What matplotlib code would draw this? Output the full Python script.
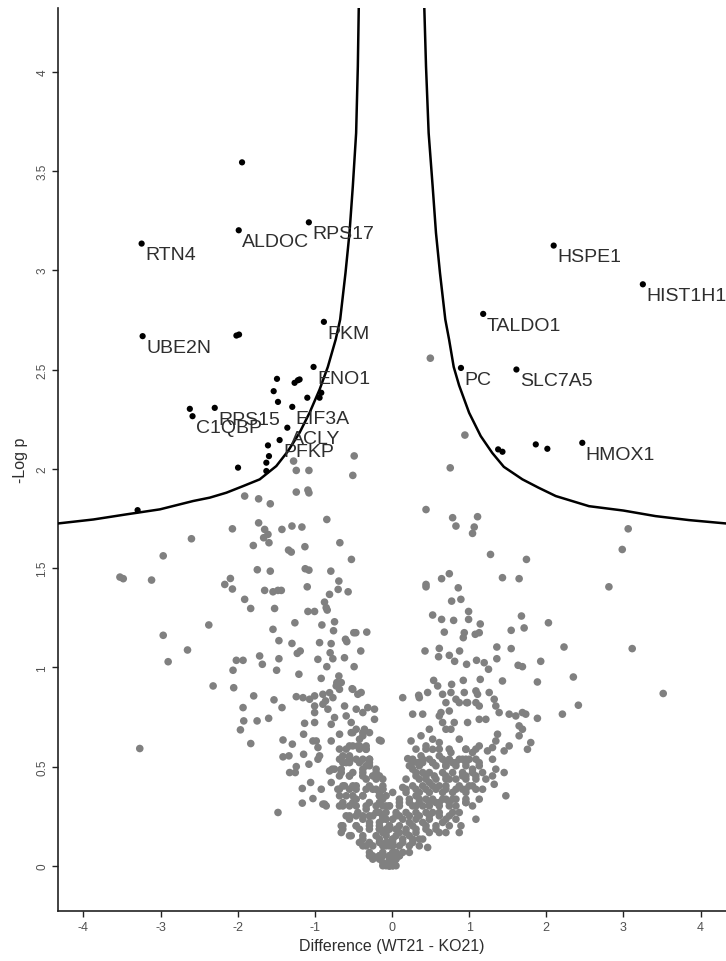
import matplotlib
matplotlib.use("Agg")
import matplotlib.pyplot as plt

plt.rcParams['font.family'] = ['Liberation Sans', 'DejaVu Sans']

# ---------------- data ----------------
labeled_genes = ["RTN4", "ALDOC", "RPS17", "UBE2N", "PKM", "ENO1", "RPS15", "C1QBP",
                 "EIF3A", "ACLY", "PFKP", "HSPE1", "HIST1H1C", "TALDO1", "PC", "SLC7A5", "HMOX1"]
labeled_diff = [-3.246, -1.987, -1.078, -3.233, -0.883, -1.017, -2.298, -2.586,
                -1.293, -1.357, -1.457, 2.096, 3.252, 1.182, 0.894, 1.613, 2.467]
labeled_logp = [3.134, 3.201, 3.241, 2.668, 2.740, 2.513, 2.307, 2.265,
                2.312, 2.207, 2.145, 3.124, 2.929, 2.780, 2.508, 2.500, 2.131]

other_sig_diff = [-1.944, -2.017, -1.983, -1.491, -1.263, -1.220, -1.198, -1.534, -1.478,
                  -1.098, -0.939, -0.917, -2.621, -1.608, -1.595, -1.629, -1.996, -1.629,
                  -3.298, 1.376, 1.432, 1.864, 2.014]
other_sig_logp = [3.543, 2.671, 2.676, 2.453, 2.433, 2.446, 2.450, 2.391, 2.337,
                  2.358, 2.358, 2.383, 2.302, 2.118, 2.064, 2.031, 2.006, 1.989,
                  1.792, 2.098, 2.086, 2.123, 2.101]

# significance threshold curve, left and right branches
curve_left_diff = [-0.431, -0.443, -0.465, -0.508, -0.551, -0.603, -0.672, -0.730, -0.832,
                   -0.939, -1.069, -1.198, -1.349, -1.500, -1.715, -1.931, -2.146, -2.362,
                   -2.578, -3.009, -3.440, -3.872, -4.330]
curve_left_logp = [4.319, 4.026, 3.691, 3.422, 3.188, 2.986, 2.752, 2.651, 2.513,
                   2.399, 2.282, 2.182, 2.089, 2.014, 1.947, 1.913, 1.880, 1.855,
                   1.838, 1.796, 1.771, 1.745, 1.725]
curve_right_diff = [0.419, 0.441, 0.475, 0.527, 0.570, 0.622, 0.691, 0.740, 0.800, 0.870,
                    1.000, 1.150, 1.300, 1.450, 1.691, 1.900, 2.123, 2.554, 3.000, 3.417,
                    3.850, 4.330]
curve_right_logp = [4.319, 4.026, 3.691, 3.422, 3.188, 2.986, 2.752, 2.651, 2.513, 2.420,
                    2.282, 2.165, 2.080, 2.010, 1.947, 1.905, 1.863, 1.812, 1.790, 1.762,
                    1.742, 1.725]

# non-significant proteins (difference, -log p), grouped by region
ns_top = [(0.497, 2.557), (0.945, 2.170), (-0.490, 2.065), (-1.276, 2.039)]

ns_left_mid = [
    (-1.241, 1.992), (-1.077, 1.992), (-0.508, 1.967), (-1.241, 1.883), (-1.090, 1.893),
    (-1.077, 1.879), (-1.910, 1.863), (-1.729, 1.849), (-1.578, 1.824), (-0.845, 1.745),
    (-1.729, 1.728), (-2.069, 1.698), (-1.427, 1.695), (-1.297, 1.712), (-1.168, 1.707),
    (-1.651, 1.695), (-1.608, 1.670), (-1.664, 1.653), (-1.595, 1.628), (-1.798, 1.614),
    (-2.600, 1.648), (-1.129, 1.608), (-0.676, 1.628), (-1.341, 1.591), (-1.306, 1.581),
    (-2.966, 1.562), (-0.526, 1.544), (-1.746, 1.492), (-1.578, 1.485), (-1.125, 1.497),
    (-1.077, 1.490), (-0.793, 1.485), (-3.527, 1.455), (-3.484, 1.447), (-3.117, 1.440),
    (-2.095, 1.448), (-2.168, 1.418), (-2.069, 1.395), (-1.651, 1.388), (-1.543, 1.381),
    (-1.479, 1.388), (-1.435, 1.388), (-1.099, 1.406), (-0.689, 1.435), (-0.698, 1.393),
    (-0.569, 1.381), (-0.810, 1.368), (-1.910, 1.343), (-1.832, 1.297), (-1.522, 1.297),
    (-0.875, 1.329), (-0.853, 1.301), (-0.840, 1.289), (-1.090, 1.282), (-1.004, 1.282),
    (-2.375, 1.214), (-1.543, 1.192), (-1.259, 1.225), (-0.909, 1.214), (-0.745, 1.230),
    (-0.758, 1.185), (-2.966, 1.162), (-0.495, 1.175), (-0.603, 1.142), (-0.586, 1.130),
    (-0.327, 1.178), (-0.469, 1.175), (-1.466, 1.135), (-1.297, 1.121), (-0.939, 1.125),
    (-0.789, 1.120), (-2.651, 1.088), (-1.228, 1.071), (-1.190, 1.083), (-0.802, 1.074),
    (-0.767, 1.044), (-0.405, 1.083), (-2.902, 1.029), (-2.018, 1.036), (-1.931, 1.036),
    (-1.716, 1.058), (-1.681, 1.016), (-1.466, 1.044), (-0.961, 1.041), (-0.616, 1.049),
    (-0.845, 1.004), (-0.491, 1.004), (-2.061, 0.986), (-1.496, 0.986), (-1.207, 0.966),
    (-0.918, 0.945), (-0.689, 0.957), (-0.715, 0.924), (-2.319, 0.907), (-2.052, 0.898),
    (-0.517, 0.893), (-0.681, 0.890),
]

ns_right_mid = [
    (0.755, 2.005), (0.441, 1.795), (0.786, 1.754), (0.829, 1.712), (1.109, 1.759),
    (1.066, 1.707), (1.044, 1.675), (3.062, 1.698), (2.985, 1.594), (1.277, 1.569),
    (1.743, 1.544), (0.743, 1.472), (0.643, 1.447), (0.441, 1.418), (0.441, 1.406),
    (0.859, 1.401), (1.432, 1.452), (1.648, 1.447), (2.812, 1.406), (0.773, 1.334),
    (0.893, 1.343), (0.527, 1.264), (0.643, 1.242), (0.799, 1.237), (0.993, 1.282),
    (0.993, 1.242), (1.144, 1.219), (1.678, 1.259), (1.713, 1.199), (2.028, 1.225),
    (0.678, 1.178), (0.937, 1.175), (0.924, 1.150), (1.079, 1.167), (1.131, 1.175),
    (1.545, 1.187), (2.230, 1.103), (3.114, 1.095), (0.428, 1.083), (0.613, 1.096),
    (0.604, 1.054), (0.743, 1.061), (0.876, 1.083), (0.812, 1.031), (0.967, 1.016),
    (1.096, 1.036), (1.195, 1.024), (1.251, 0.991), (1.359, 1.044), (1.359, 1.103),
    (1.545, 1.095), (1.635, 1.011), (1.691, 1.004), (1.928, 1.031), (2.351, 0.952),
    (0.540, 0.935), (0.773, 0.915), (0.924, 0.935), (1.144, 0.940), (1.432, 0.932),
    (1.885, 0.927), (3.516, 0.869),
]

ns_left_low = [
    (-3.270, 0.592),
    (-1.793, 0.857), (-1.530, 0.837), (-1.426, 0.798), (-1.931, 0.798), (-1.922, 0.731),
    (-1.749, 0.731), (-1.599, 0.744), (-1.965, 0.686), (-1.831, 0.617), (-1.413, 0.635),
    (-1.292, 0.614), (-1.413, 0.550), (-1.336, 0.555), (-1.146, 0.664), (-1.133, 0.719),
    (-1.146, 0.563), (-1.241, 0.501), (-1.327, 0.471), (-1.254, 0.471), (-1.077, 0.513),
    (-1.163, 0.391), (-1.055, 0.421), (-1.163, 0.317), (-1.025, 0.340), (-0.917, 0.387),
    (-0.896, 0.312), (-0.853, 0.303), (-1.478, 0.270),
    (-1.241, 0.853), (-1.154, 0.848), (-1.068, 0.840), (-1.003, 0.857), (-1.003, 0.806),
    (-1.003, 0.773), (-1.003, 0.723), (-1.025, 0.630), (-0.982, 0.630), (-0.960, 0.597),
    (-0.960, 0.538), (-0.939, 0.555),
    (-0.896, 0.865), (-0.861, 0.832), (-0.896, 0.815), (-0.809, 0.873), (-0.766, 0.848),
    (-0.723, 0.907), (-0.658, 0.924),
    (-0.831, 0.790), (-0.788, 0.714), (-0.745, 0.748), (-0.788, 0.630), (-0.680, 0.664),
    (-0.775, 0.488), (-0.809, 0.479),
    (-0.615, 0.806), (-0.594, 0.756), (-0.529, 0.723), (-0.508, 0.890), (-0.443, 0.865),
    (-0.400, 0.874), (-0.464, 0.790), (-0.378, 0.773), (-0.314, 0.798), (-0.227, 0.790),
    (-0.227, 0.739), (-0.529, 0.672), (-0.163, 0.634),
    (-0.637, 0.555), (-0.594, 0.521), (-0.658, 0.488), (-0.551, 0.454), (-0.615, 0.404),
    (-0.702, 0.387), (-0.594, 0.354), (-0.551, 0.303), (-0.680, 0.303), (-0.658, 0.203),
    (-0.658, 0.169), (-0.551, 0.236), (-0.529, 0.153), (-0.464, 0.203), (-0.378, 0.136),
    (-0.335, 0.102), (-0.292, 0.069), (-0.249, 0.035), (-0.163, 0.052), (-0.119, 0.018),
    (-0.033, 0.002), (-0.076, 0.102), (-0.119, 0.169), (-0.163, 0.220), (-0.076, 0.236),
    (-0.206, 0.270), (-0.119, 0.303), (-0.163, 0.354), (-0.249, 0.387), (-0.335, 0.438),
    (-0.378, 0.488), (-0.464, 0.538), (-0.421, 0.605), (-0.378, 0.656), (-0.335, 0.588),
    (-0.292, 0.538), (-0.335, 0.505), (-0.206, 0.488), (-0.206, 0.438), (-0.508, 0.404),
    (-0.464, 0.337), (-0.378, 0.354), (-0.335, 0.287), (-0.292, 0.220), (-0.378, 0.236),
    (-0.443, 0.270), (-0.421, 0.639), (-0.464, 0.689), (-0.357, 0.689), (-0.292, 0.505),
    (-0.119, 0.387), (-0.119, 0.438), (-0.033, 0.186), (0.010, 0.136), (0.053, 0.069),
    (0.031, 0.027), (-0.551, 0.555), (-0.508, 0.605), (-0.745, 0.488), (-0.788, 0.421),
    (-0.874, 0.312),
    (-0.508, 0.672), (-0.378, 0.672), (-0.292, 0.672),
    (-0.551, 0.605), (-0.443, 0.605), (-0.335, 0.605),
    (-0.680, 0.538), (-0.551, 0.538), (-0.378, 0.538), (-0.292, 0.538),
    (-0.658, 0.471), (-0.508, 0.471), (-0.378, 0.471), (-0.206, 0.471),
    (-0.637, 0.404), (-0.464, 0.404), (-0.292, 0.404), (-0.119, 0.404),
    (-0.680, 0.354), (-0.508, 0.354), (-0.378, 0.354), (-0.163, 0.354), (-0.076, 0.354),
    (-0.637, 0.303), (-0.464, 0.303), (-0.335, 0.303), (-0.206, 0.303), (-0.033, 0.303),
    (-0.551, 0.253), (-0.378, 0.253), (-0.249, 0.253), (-0.119, 0.253), (0.053, 0.253),
    (-0.637, 0.203), (-0.464, 0.203), (-0.292, 0.203), (-0.163, 0.203), (-0.033, 0.203),
    (-0.551, 0.153), (-0.378, 0.153), (-0.206, 0.153), (-0.076, 0.153), (0.053, 0.153),
    (-0.378, 0.102), (-0.249, 0.102), (-0.119, 0.102), (0.010, 0.102),
    (-0.292, 0.052), (-0.163, 0.052), (-0.033, 0.052), (0.074, 0.052),
    (-0.119, 0.002), (0.010, 0.002),
]

ns_right_low = [
    (0.139, 0.848), (0.346, 0.860), (0.354, 0.848), (0.462, 0.874), (0.592, 0.907),
    (2.416, 0.810), (2.209, 0.765), (1.885, 0.744),
    (1.088, 0.882), (1.109, 0.865), (0.937, 0.874), (0.967, 0.823), (1.088, 0.823),
    (1.131, 0.806), (0.656, 0.865), (0.699, 0.823), (0.764, 0.874), (0.829, 0.840),
    (1.260, 0.874), (1.325, 0.840), (1.346, 0.806), (1.389, 0.773), (1.519, 0.765),
    (1.605, 0.756), (1.691, 0.773), (1.734, 0.765), (1.648, 0.706), (1.691, 0.689),
    (0.268, 0.765), (0.398, 0.765), (0.613, 0.756), (0.635, 0.773),
    (0.743, 0.781), (0.872, 0.823), (0.980, 0.823), (0.807, 0.723), (0.980, 0.723),
    (1.131, 0.739), (1.217, 0.739), (0.764, 0.689), (0.484, 0.689), (0.376, 0.656),
    (0.247, 0.630), (-0.141, 0.630),
    (1.648, 0.656), (1.799, 0.622), (1.756, 0.588), (1.519, 0.605), (1.454, 0.580),
    (1.368, 0.664), (1.346, 0.630), (1.303, 0.597), (1.238, 0.580), (1.303, 0.538),
    (1.131, 0.605), (1.044, 0.572), (0.958, 0.588), (0.872, 0.639), (0.764, 0.572),
    (0.613, 0.622), (0.527, 0.639), (0.441, 0.605), (0.376, 0.555), (0.204, 0.541),
    (0.333, 0.521), (0.268, 0.488), (0.398, 0.471), (0.527, 0.521), (0.613, 0.555),
    (0.699, 0.505), (0.786, 0.521), (0.872, 0.538), (0.958, 0.538), (1.044, 0.488),
    (0.915, 0.454), (0.829, 0.438), (0.699, 0.438), (0.613, 0.404), (0.484, 0.421),
    (0.354, 0.438), (0.268, 0.404), (0.139, 0.396), (0.311, 0.354), (0.441, 0.337),
    (0.570, 0.320), (0.699, 0.337), (0.829, 0.337), (0.915, 0.387), (1.001, 0.404),
    (1.088, 0.438), (1.174, 0.387), (1.131, 0.337), (1.044, 0.303), (0.958, 0.320),
    (0.872, 0.270), (0.743, 0.253), (0.656, 0.220), (0.527, 0.270), (0.398, 0.303),
    (0.268, 0.303), (0.182, 0.270), (0.096, 0.303), (0.225, 0.220), (0.398, 0.220),
    (0.570, 0.186), (0.699, 0.169), (0.872, 0.169), (0.894, 0.203), (1.088, 0.236),
    (0.462, 0.094), (0.354, 0.136), (0.225, 0.153), (0.096, 0.169), (0.009, 0.136),
    (-0.077, 0.119), (-0.120, 0.069), (-0.034, 0.035), (0.096, 0.052), (0.225, 0.069),
    (-0.034, 0.000), (-0.163, 0.371), (-0.163, 0.270), (-0.163, 0.186), (-0.077, 0.303),
    (-0.120, 0.337), (1.303, 0.454), (1.346, 0.488), (1.454, 0.471), (1.325, 0.412),
    (1.476, 0.354), (1.217, 0.438), (0.656, 0.723), (0.699, 0.689), (0.527, 0.588),
    (0.268, 0.538), (0.398, 0.538), (0.484, 0.538), (0.656, 0.538), (0.743, 0.538),
    (0.915, 0.538), (1.001, 0.538), (1.088, 0.538),
    (0.225, 0.505), (0.354, 0.505), (0.570, 0.505), (0.699, 0.505), (0.829, 0.505),
    (0.958, 0.505), (1.131, 0.505),
    (0.311, 0.471), (0.484, 0.471), (0.656, 0.471), (0.786, 0.471), (0.915, 0.471),
    (1.044, 0.471), (1.174, 0.471),
    (0.182, 0.438), (0.441, 0.438), (0.570, 0.438), (0.743, 0.438), (0.958, 0.438),
    (0.398, 0.404), (0.527, 0.404), (0.699, 0.404), (0.872, 0.404), (1.044, 0.404),
    (0.009, 0.371), (0.182, 0.371), (0.354, 0.371), (0.484, 0.371), (0.656, 0.371),
    (0.786, 0.371), (0.958, 0.371),
    (0.096, 0.337), (0.225, 0.337), (0.354, 0.337), (0.527, 0.337), (0.656, 0.337),
    (0.786, 0.337), (0.958, 0.337),
    (-0.034, 0.303), (0.311, 0.303), (0.484, 0.303), (0.613, 0.303), (0.743, 0.303),
    (0.829, 0.303),
    (-0.077, 0.270), (0.053, 0.270), (0.311, 0.270), (0.441, 0.270), (0.613, 0.270),
    (0.786, 0.270),
    (-0.120, 0.236), (0.009, 0.236), (0.139, 0.236), (0.311, 0.236), (0.484, 0.236),
    (0.699, 0.236), (0.829, 0.236),
    (-0.034, 0.203), (0.096, 0.203), (0.268, 0.203), (0.441, 0.203), (0.570, 0.203),
    (0.743, 0.203),
    (-0.077, 0.169), (0.182, 0.169), (0.311, 0.169), (0.484, 0.169), (0.613, 0.169),
    (-0.163, 0.136), (0.139, 0.136), (0.268, 0.136), (0.398, 0.136),
    (-0.034, 0.102), (0.096, 0.102), (0.225, 0.102), (0.354, 0.102),
    (0.009, 0.069), (0.139, 0.069), (-0.163, 0.035), (0.053, 0.035), (-0.077, 0.010),
]

# extra proteins inside the two dense lobes near the origin
ns_core = [
    (-0.681, 0.589), (-0.594, 0.589), (-0.422, 0.589), (-0.336, 0.589),
    (-0.638, 0.521), (-0.551, 0.521), (-0.422, 0.521), (-0.293, 0.521),
    (-0.681, 0.454), (-0.551, 0.454), (-0.379, 0.454), (-0.250, 0.454), (-0.163, 0.454),
    (-0.681, 0.387), (-0.551, 0.387), (-0.465, 0.387), (-0.336, 0.387), (-0.206, 0.387),
    (-0.120, 0.387),
    (-0.638, 0.320), (-0.508, 0.320), (-0.293, 0.320), (-0.163, 0.320),
    (-0.594, 0.253), (-0.465, 0.253), (-0.293, 0.253), (-0.120, 0.253),
    (-0.638, 0.186), (-0.422, 0.186), (-0.293, 0.186), (-0.163, 0.186), (-0.077, 0.186),
    (-0.422, 0.119), (-0.293, 0.119), (-0.163, 0.119), (-0.034, 0.119),
    (-0.250, 0.052), (-0.120, 0.052), (0.009, 0.052),
    (-0.077, 0.002), (0.052, 0.002),
    (0.311, 0.589), (0.440, 0.589), (0.613, 0.589), (0.742, 0.589), (0.958, 0.589),
    (1.087, 0.589),
    (0.268, 0.521), (0.397, 0.521), (0.527, 0.521), (0.699, 0.521), (0.829, 0.521),
    (0.958, 0.521), (1.130, 0.521),
    (0.311, 0.454), (0.440, 0.454), (0.548, 0.454), (0.699, 0.454), (0.958, 0.454),
    (1.087, 0.454),
    (0.182, 0.387), (0.311, 0.387), (0.440, 0.387), (0.570, 0.387), (0.699, 0.387),
    (0.829, 0.387), (0.958, 0.387), (1.087, 0.387),
    (0.096, 0.320), (0.225, 0.320), (0.354, 0.320), (0.484, 0.320), (0.613, 0.320),
    (0.742, 0.320), (0.958, 0.320),
    (0.096, 0.253), (0.225, 0.253), (0.354, 0.253), (0.484, 0.253), (0.613, 0.253),
    (0.052, 0.186), (0.182, 0.186), (0.311, 0.186), (0.440, 0.186),
    (0.009, 0.119), (0.139, 0.119), (0.268, 0.119),
    (-0.034, 0.052), (0.096, 0.052), (0.009, 0.002),
]

x_ticks = [-4, -3, -2, -1, 0, 1, 2, 3, 4]
x_tick_labels = ["-4", "-3", "-2", "-1", "0", "1", "2", "3", "4"]
y_ticks = [0, 0.5, 1, 1.5, 2, 2.5, 3, 3.5, 4]
y_tick_labels = ["0", "0.5", "1", "1.5", "2", "2.5", "3", "3.5", "4"]
x_title = "Difference (WT21 - KO21)"
y_title = "-Log p"

# ---------------- plot ----------------
W, H = 726, 962
fig = plt.figure(figsize=(W / 100, H / 100), dpi=100)
ax = fig.add_axes([58 / W, 50 / H, 668 / W, 903 / H])

ns_all = ns_top + ns_left_mid + ns_right_mid + ns_left_low + ns_right_low + ns_core
ns_diff = [p[0] for p in ns_all]
ns_logp = [p[1] for p in ns_all]

ax.scatter(ns_diff, ns_logp, s=30, color="#808080", edgecolors="none", zorder=2)
ax.scatter(other_sig_diff + labeled_diff, other_sig_logp + labeled_logp,
           s=20, color="black", edgecolors="none", zorder=3)
ax.plot(curve_left_diff, curve_left_logp, color="black", lw=1.8, zorder=4)
ax.plot(curve_right_diff, curve_right_logp, color="black", lw=1.8, zorder=4)

for name, xv, yv in zip(labeled_genes, labeled_diff, labeled_logp):
    ax.annotate(name, (xv, yv), xytext=(2.5, -2), textcoords="offset points",
                ha="left", va="top", fontsize=14, color="#2e2e2e", zorder=5)

ax.set_xlim(-4.33, 4.33)
ax.set_ylim(-0.226, 4.32)

for side in ("top", "right"):
    ax.spines[side].set_visible(False)
for side in ("left", "bottom"):
    ax.spines[side].set_linewidth(1.2)
    ax.spines[side].set_color("#222222")

ax.set_xticks(x_ticks)
ax.set_xticklabels(x_tick_labels, fontsize=9, color="#505050")
ax.set_yticks(y_ticks)
ax.set_yticklabels(y_tick_labels, fontsize=8.5, color="#505050", rotation=90, va="center")
ax.tick_params(axis="both", direction="out", length=4, width=1, color="#222222", pad=3)

ax.set_xlabel(x_title, fontsize=11.5, color="#2e2e2e", labelpad=4)
ax.set_ylabel(y_title, fontsize=11.5, color="#2e2e2e", labelpad=6)

fig.savefig("out.png", dpi=100)
